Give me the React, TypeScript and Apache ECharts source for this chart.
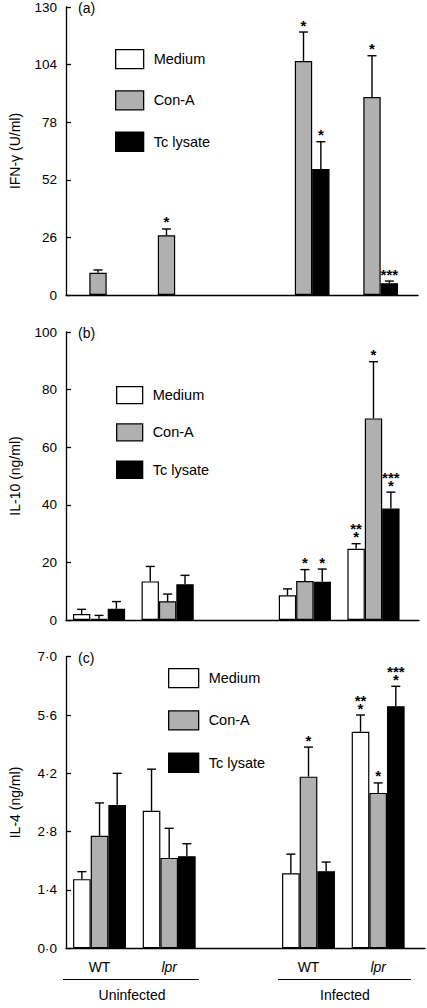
import React, { useEffect, useRef } from "react";
import * as echarts from "echarts";

const FONT = "'Liberation Sans', Arial, Helvetica, sans-serif";

// ---------- data ----------
const categories = ["WT", "lpr", "", "WT", "lpr"];
const groupSlots = [0, 1, 3, 4]; // Uninfected WT, Uninfected lpr, Infected WT, Infected lpr
const seriesNames = ["Medium", "Con-A", "Tc lysate"];

// (a) IFN-γ (U/ml)
const ifnMedium = [0, 0, 0, 0];
const ifnMediumErr = [0, 0, 0, 0];
const ifnConA = [10, 27, 105.6, 89.4];
const ifnConAErr = [1.3, 2.8, 13.1, 18.6];
const ifnTc = [0, 0, 56.9, 5.3];
const ifnTcErr = [0, 0, 12.3, 1.0];
const ifnMediumStars = ["", "", "", ""];
const ifnConAStars = ["", "*", "*", "*"];
const ifnTcStars = ["", "", "*", "***"];
const ifnTicks = { min: 0, max: 130, interval: 26 };

// (b) IL-10 (ng/ml)
const il10Medium = [2.1, 13.4, 8.6, 24.7];
const il10MediumErr = [1.6, 5.2, 2.2, 1.8];
const il10ConA = [0.4, 6.5, 13.5, 70.0];
const il10ConAErr = [1.2, 2.5, 4.0, 19.7];
const il10Tc = [3.9, 12.4, 13.3, 38.7];
const il10TcErr = [2.5, 3.1, 4.4, 5.7];
const il10MediumStars = ["", "", "", "**\n*"];
const il10ConAStars = ["", "", "*", "*"];
const il10TcStars = ["", "", "*", "***\n*"];
const il10Ticks = { min: 0, max: 100, interval: 20 };

// (c) IL-4 (ng/ml)
const il4Medium = [1.66, 3.3, 1.8, 5.2];
const il4MediumErr = [0.18, 1.0, 0.46, 0.4];
const il4ConA = [2.7, 2.17, 4.12, 3.73];
const il4ConAErr = [0.79, 0.71, 0.71, 0.24];
const il4Tc = [3.44, 2.21, 1.85, 5.81];
const il4TcErr = [0.76, 0.3, 0.22, 0.48];
const il4MediumStars = ["", "", "", "**\n*"];
const il4ConAStars = ["", "", "*", "*"];
const il4TcStars = ["", "", "", "***\n*"];
const il4Ticks = { min: 0, max: 7, interval: 1.4 };

const groupLabels = ["Uninfected", "Infected"];

// ---------- layout / style ----------
const COLORS = ["#ffffff", "#b0b0b0", "#000000"];
const BAR_GAP_PCT = 24;

const panels = [
  {
    label: "(a)",
    yName: "IFN-\u03b3 (U/ml)",
    ticks: ifnTicks,
    decimals: 0,
    values: [ifnMedium, ifnConA, ifnTc],
    errs: [ifnMediumErr, ifnConAErr, ifnTcErr],
    stars: [ifnMediumStars, ifnConAStars, ifnTcStars],
    top: 7, height: 288, axisRight: 418, bandLeft: 63.75, bandRight: 406.25,
    legendLeft: 115, legendTop: 49, itemW: 28, itemH: 19, itemGap: 21,
  },
  {
    label: "(b)",
    yName: "IL-10 (ng/ml)",
    ticks: il10Ticks,
    decimals: 0,
    values: [il10Medium, il10ConA, il10Tc],
    errs: [il10MediumErr, il10ConAErr, il10TcErr],
    stars: [il10MediumStars, il10ConAStars, il10TcStars],
    top: 332, height: 288, axisRight: 419, bandLeft: 64.7, bandRight: 407.8,
    legendLeft: 116, legendTop: 386, itemW: 26, itemH: 17, itemGap: 19,
  },
  {
    label: "(c)",
    yName: "IL-4 (ng/ml)",
    ticks: il4Ticks,
    decimals: 1,
    values: [il4Medium, il4ConA, il4Tc],
    errs: [il4MediumErr, il4ConAErr, il4TcErr],
    stars: [il4MediumStars, il4ConAStars, il4TcStars],
    top: 656.7, height: 291.6, axisRight: 425, bandLeft: 64.7, bandRight: 413,
    legendLeft: 168, legendTop: 668, itemW: 30, itemH: 19, itemGap: 22,
  },
];

function toCats(arr: number[]) {
  const out: any[] = categories.map(() => "-");
  arr.forEach((v, i) => {
    out[groupSlots[i]] = v > 0 ? v : "-";
  });
  return out;
}

function buildOption() {
  const grid: any[] = [];
  const xAxis: any[] = [];
  const yAxis: any[] = [];
  const legend: any[] = [];
  const series: any[] = [];
  const graphic: any[] = [];
  const axisLineStyle = { color: "#000", width: 1.3 };

  panels.forEach((p, pi) => {
    const wide = pi * 2;
    const narrow = pi * 2 + 1;
    grid.push({ left: 58, top: p.top, width: p.axisRight - 58, height: p.height });
    grid.push({ left: p.bandLeft, top: p.top, width: p.bandRight - p.bandLeft, height: p.height });

    xAxis.push({
      gridIndex: wide, type: "value", min: 0, max: 1,
      axisLine: { show: true, lineStyle: axisLineStyle },
      axisTick: { show: false }, axisLabel: { show: false }, splitLine: { show: false },
    });
    xAxis.push({
      gridIndex: narrow, type: "category", data: categories,
      axisLine: { show: false }, axisTick: { show: false },
      axisLabel: {
        show: pi === 2, color: "#000", fontSize: 14, margin: 12, fontFamily: FONT,
        formatter: (v: string) => (v === "lpr" ? "{i|lpr}" : v),
        rich: { i: { fontStyle: "italic", fontSize: 14, color: "#000", fontFamily: FONT } },
      },
    });
    yAxis.push({
      gridIndex: wide, type: "value",
      min: p.ticks.min, max: p.ticks.max, interval: p.ticks.interval,
      name: p.yName, nameLocation: "middle", nameGap: 44,
      nameTextStyle: { fontSize: 14, color: "#000", fontFamily: FONT },
      axisLine: { show: true, lineStyle: axisLineStyle },
      axisTick: { show: true, inside: true, length: 5, lineStyle: axisLineStyle },
      axisLabel: {
        color: "#000", fontSize: 13.5, margin: 9, fontFamily: FONT,
        formatter: (v: number) => v.toFixed(p.decimals).replace(".", "\u00b7"),
      },
      splitLine: { show: false },
    });
    yAxis.push({
      gridIndex: narrow, type: "value",
      min: p.ticks.min, max: p.ticks.max, show: false,
    });

    legend.push({
      orient: "vertical", left: p.legendLeft, top: p.legendTop, padding: 0,
      itemWidth: p.itemW, itemHeight: p.itemH, itemGap: p.itemGap,
      icon: "rect", selectedMode: false,
      data: seriesNames,
      textStyle: { fontSize: 14.5, color: "#000", fontFamily: FONT, padding: [0, 0, 0, 5] },
      itemStyle: { borderColor: "#000", borderWidth: 1.3 },
    });

    seriesNames.forEach((name, si) => {
      series.push({
        type: "bar", name,
        xAxisIndex: narrow, yAxisIndex: narrow,
        data: toCats(p.values[si]),
        barGap: "0%", barCategoryGap: BAR_GAP_PCT + "%",
        itemStyle: { color: COLORS[si], borderColor: "#000", borderWidth: 1.2 },
        emphasis: { disabled: true },
      });
    });

    const items: any[] = [];
    seriesNames.forEach((_, si) => {
      p.values[si].forEach((v, gi) => {
        const e = p.errs[si][gi];
        if (e > 0) {
          items.push({ cat: groupSlots[gi], v, e, k: si - 1, stars: p.stars[si][gi] });
        }
      });
    });

    series.push({
      type: "custom", name: "err" + pi,
      xAxisIndex: narrow, yAxisIndex: narrow,
      data: items.map((it) => [it.cat, it.v, it.e, it.k]),
      encode: { x: 0, y: 1 },
      z: 5, silent: true,
      renderItem: (params: any, api: any) => {
        const it = items[params.dataIndex];
        const band = api.size([1, 0])[0];
        const bw = (band * (1 - BAR_GAP_PCT / 100)) / 3;
        const x = api.coord([it.cat, 0])[0] + it.k * bw;
        const yTop = api.coord([it.cat, it.v])[1];
        const yErr = api.coord([it.cat, it.v + it.e])[1];
        const ls = { stroke: "#000", lineWidth: 1.4 };
        const children: any[] = [
          { type: "line", shape: { x1: x, y1: yTop, x2: x, y2: yErr }, style: ls },
          { type: "line", shape: { x1: x - 4.5, y1: yErr, x2: x + 4.5, y2: yErr }, style: ls },
        ];
        if (it.stars) {
          children.push({
            type: "text",
            style: {
              text: it.stars, x, y: yErr - 3,
              fill: "#000", align: "center", verticalAlign: "bottom",
              font: "bold 15px " + FONT, lineHeight: 8,
            },
          });
        }
        return { type: "group", children };
      },
    });

    graphic.push({
      type: "text", x: 78, y: p.top + 1,
      style: { text: p.label, fill: "#000", font: "14px " + FONT, verticalAlign: "middle" },
    });
  });

  // group underlines and labels under panel (c)
  const lineY = 979.5;
  const under = [
    { x1: 63, x2: 199, cx: 132 },
    { x1: 278, x2: 411, cx: 345 },
  ];
  under.forEach((u, i) => {
    graphic.push({
      type: "line", shape: { x1: u.x1, y1: lineY, x2: u.x2, y2: lineY },
      style: { stroke: "#000", lineWidth: 1.2 },
    });
    graphic.push({
      type: "text", x: u.cx, y: 995,
      style: { text: groupLabels[i], fill: "#000", font: "14px " + FONT, align: "center", verticalAlign: "middle" },
    });
  });

  return {
    animation: false,
    backgroundColor: "#ffffff",
    textStyle: { fontFamily: FONT },
    grid, xAxis, yAxis, legend, series, graphic,
  };
}

export default function App() {
  const ref = useRef<HTMLDivElement>(null);
  useEffect(() => {
    if (!ref.current) return;
    const chart = echarts.init(ref.current, undefined, { renderer: "svg" });
    chart.setOption(buildOption() as any);
    return () => chart.dispose();
  }, []);
  return (
    <div
      ref={ref}
      style={{ position: "absolute", left: 0, top: 0, width: 427, height: 1008, background: "#fff" }}
    />
  );
}
